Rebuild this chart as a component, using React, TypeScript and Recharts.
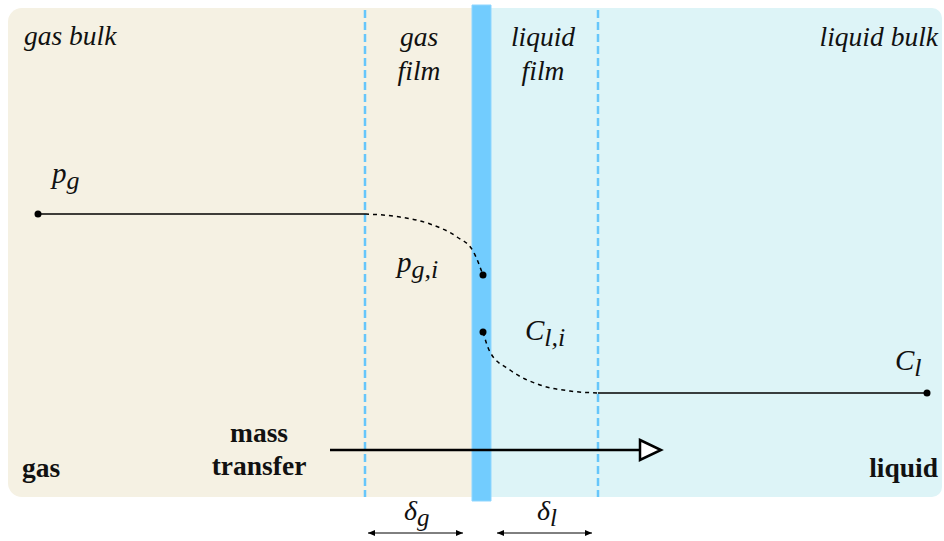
import React from "react";
import {
  ComposedChart,
  XAxis,
  YAxis,
  Line,
  Scatter,
  ReferenceArea,
  ReferenceLine,
  Rectangle,
} from "recharts";

// layout in figure units (x: distance across the two-film model, y: concentration axis, top-down)
const phases = [
  { name: "gas", x1: 8, x2: 472, y1: 8, y2: 497 },
  { name: "liquid", x1: 472, x2: 942, y1: 8, y2: 497 },
];
const interfaceBand = { x1: 472, x2: 491, y1: 5, y2: 501 };
const filmEdges = [365, 598];

// concentration profiles
const gasBulk = [
  { x: 38, y: 214 },
  { x: 365, y: 214 },
];
const gasFilm = [
  { x: 365, y: 214 },
  { x: 400, y: 217 },
  { x: 430, y: 224 },
  { x: 457, y: 237 },
  { x: 473, y: 251 },
  { x: 483, y: 275 },
];
const liquidFilm = [
  { x: 483, y: 332 },
  { x: 490, y: 352 },
  { x: 510, y: 370 },
  { x: 540, y: 385 },
  { x: 570, y: 391 },
  { x: 598, y: 393 },
];
const liquidBulk = [
  { x: 598, y: 393 },
  { x: 927, y: 393 },
];
const markers = [
  { x: 38, y: 214 },
  { x: 483, y: 275 },
  { x: 483, y: 332 },
  { x: 927, y: 393 },
];

// arrows
const transfer = { x1: 330, x2: 640, y: 450 };
const filmSpans = [
  { x1: 368, x2: 463, y: 533 },
  { x1: 497, x2: 592, y: 533 },
];
const spanTips = filmSpans.flatMap((s) => [
  { x: s.x1, y: s.y, dir: -1 },
  { x: s.x2, y: s.y, dir: 1 },
]);

// text
const labels = [
  { x: 24, y: 45, text: "gas bulk", kind: "zone", anchor: "start" },
  { x: 419, y: 46, text: "gas", kind: "zone", anchor: "middle" },
  { x: 419, y: 80, text: "film", kind: "zone", anchor: "middle" },
  { x: 543, y: 46, text: "liquid", kind: "zone", anchor: "middle" },
  { x: 543, y: 80, text: "film", kind: "zone", anchor: "middle" },
  { x: 938, y: 46, text: "liquid bulk", kind: "zone", anchor: "end" },
  { x: 52, y: 183, text: "p", sub: "g", kind: "symbol", anchor: "start" },
  { x: 397, y: 272, text: "p", sub: "g,i", kind: "symbol", anchor: "start" },
  { x: 525, y: 340, text: "C", sub: "l,i", kind: "symbol", anchor: "start" },
  { x: 895, y: 370, text: "C", sub: "l", kind: "symbol", anchor: "start" },
  { x: 22, y: 477, text: "gas", kind: "phase", anchor: "start" },
  { x: 259, y: 442, text: "mass", kind: "phase", anchor: "middle" },
  { x: 259, y: 475, text: "transfer", kind: "phase", anchor: "middle" },
  { x: 938, y: 477, text: "liquid", kind: "phase", anchor: "end" },
  { x: 404, y: 520, text: "δ", sub: "g", kind: "delta", anchor: "start" },
  { x: 537, y: 520, text: "δ", sub: "l", kind: "delta", anchor: "start" },
];

const fills: Record<string, string> = { gas: "#f5f1e3", liquid: "#ddf4f7" };
const radii: Record<string, [number, number, number, number]> = {
  gas: [14, 0, 0, 14],
  liquid: [0, 10, 10, 0],
};
const fontFor: Record<string, { size: number; sub: number; style: string; weight: string }> = {
  zone: { size: 27.5, sub: 22, style: "italic", weight: "normal" },
  symbol: { size: 29, sub: 26, style: "italic", weight: "normal" },
  delta: { size: 28, sub: 25, style: "italic", weight: "normal" },
  phase: { size: 27.5, sub: 22, style: "normal", weight: "bold" },
};

const FilmLabel = (props: any) => {
  const { cx, cy, payload } = props;
  const f = fontFor[payload.kind];
  return (
    <text
      x={cx}
      y={cy}
      textAnchor={payload.anchor}
      fontFamily="'Liberation Serif', 'Times New Roman', serif"
      fontSize={f.size}
      fontStyle={f.style}
      fontWeight={f.weight}
      fill="#111"
    >
      {payload.text}
      {payload.sub ? (
        <tspan fontSize={f.sub} dy={6}>
          {payload.sub}
        </tspan>
      ) : null}
    </text>
  );
};

const Dot = (props: any) => <circle cx={props.cx} cy={props.cy} r={3.5} fill="#000" />;

const HollowHead = (props: any) => {
  const { cx, cy } = props;
  return (
    <polygon
      points={`${cx},${cy - 10} ${cx + 21},${cy} ${cx},${cy + 10}`}
      fill="#fff"
      stroke="#000"
      strokeWidth={2.5}
      strokeLinejoin="miter"
    />
  );
};

const SmallHead = (props: any) => {
  const { cx, cy, payload } = props;
  const d = payload.dir;
  return (
    <polygon points={`${cx},${cy} ${cx - d * 7},${cy - 3} ${cx - d * 7},${cy + 3}`} fill="#000" />
  );
};

export default function App() {
  return (
    <div style={{ position: "absolute", left: 0, top: 0, width: 944, height: 541 }}>
      <ComposedChart width={944} height={541} margin={{ top: 0, right: 0, bottom: 0, left: 0 }}>
        <XAxis type="number" dataKey="x" domain={[0, 944]} allowDataOverflow hide />
        <YAxis type="number" dataKey="y" domain={[0, 541]} allowDataOverflow reversed hide />

        {phases.map((p) => (
          <ReferenceArea
            key={p.name}
            x1={p.x1}
            x2={p.x2}
            y1={p.y1}
            y2={p.y2}
            fill={fills[p.name]}
            fillOpacity={1}
            stroke="none"
            shape={(s: any) => <Rectangle {...s} radius={radii[p.name]} />}
          />
        ))}
        <ReferenceArea
          x1={interfaceBand.x1}
          x2={interfaceBand.x2}
          y1={interfaceBand.y1}
          y2={interfaceBand.y2}
          fill="#72ccfe"
          fillOpacity={1}
          stroke="#8fd6ff"
          strokeWidth={1}
        />
        {filmEdges.map((x) => (
          <ReferenceLine
            key={x}
            segment={[
              { x, y: 10 },
              { x, y: 497 },
            ]}
            stroke="#66c6fb"
            strokeWidth={2.5}
            strokeDasharray="8 4"
          />
        ))}

        <ReferenceLine
          segment={[
            { x: transfer.x1, y: transfer.y },
            { x: transfer.x2, y: transfer.y },
          ]}
          stroke="#000"
          strokeWidth={2.5}
        />
        {filmSpans.map((s, i) => (
          <ReferenceLine
            key={i}
            segment={[
              { x: s.x1, y: s.y },
              { x: s.x2, y: s.y },
            ]}
            stroke="#000"
            strokeWidth={1}
          />
        ))}

        <Line data={gasBulk} dataKey="y" type="linear" stroke="#000" strokeWidth={1.5} dot={false} isAnimationActive={false} />
        <Line data={gasFilm} dataKey="y" type="monotone" stroke="#000" strokeWidth={1.5} strokeDasharray="4 4" dot={false} isAnimationActive={false} />
        <Line data={liquidFilm} dataKey="y" type="monotone" stroke="#000" strokeWidth={1.5} strokeDasharray="4 4" dot={false} isAnimationActive={false} />
        <Line data={liquidBulk} dataKey="y" type="linear" stroke="#000" strokeWidth={1.5} dot={false} isAnimationActive={false} />

        <Scatter data={markers} dataKey="y" shape={Dot} isAnimationActive={false} />
        <Scatter data={[{ x: transfer.x2, y: transfer.y }]} dataKey="y" shape={HollowHead} isAnimationActive={false} />
        <Scatter data={spanTips} dataKey="y" shape={SmallHead} isAnimationActive={false} />
        <Scatter data={labels} dataKey="y" shape={FilmLabel} isAnimationActive={false} />
      </ComposedChart>
    </div>
  );
}
